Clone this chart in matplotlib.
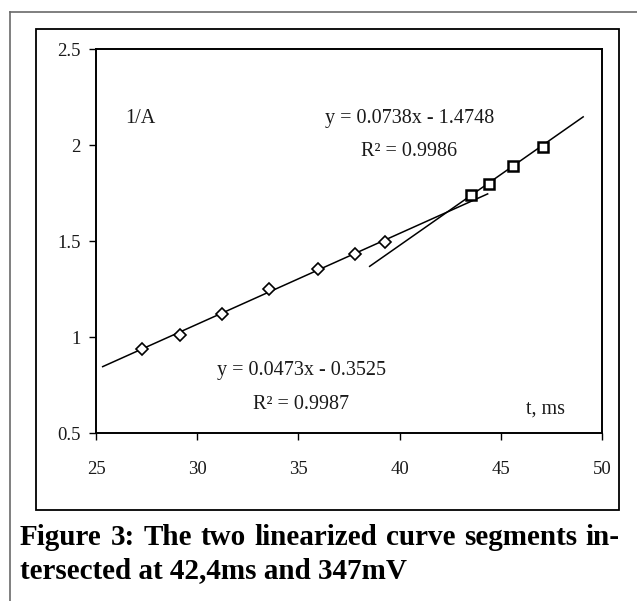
import matplotlib
matplotlib.use("Agg")
import matplotlib.pyplot as plt
from matplotlib.lines import Line2D
from matplotlib.patches import Rectangle
import numpy as np

# ---- data ----
seg1_t = [27.27, 29.14, 31.21, 33.55, 35.95, 37.82, 39.28]
seg1_inv_a = [0.936, 1.009, 1.122, 1.248, 1.352, 1.432, 1.495]
seg2_t = [43.53, 44.41, 45.60, 47.08]
seg2_inv_a = [1.742, 1.795, 1.889, 1.992]

fit1_slope, fit1_intercept = 0.0473, -0.3525
fit2_slope, fit2_intercept = 0.0738, -1.4748
fit1_range = [25.33, 44.35]
fit2_range = [38.52, 49.07]

fit1_label = "y = 0.0473x - 0.3525"
fit1_r2 = "R\u00b2 = 0.9987"
fit2_label = "y = 0.0738x - 1.4748"
fit2_r2 = "R\u00b2 = 0.9986"
y_title = "1/A"
x_title = "t, ms"

x_ticks = [25, 30, 35, 40, 45, 50]
y_ticks = [0.5, 1.0, 1.5, 2.0, 2.5]
y_ticklabels = ["0.5", "1", "1.5", "2", "2.5"]

caption_line1 = "Figure 3: The two linearized curve segments in-"
caption_line2 = "tersected at 42,4ms and 347mV"

# ---- figure ----
W, H = 637, 601
fig = plt.figure(figsize=(W / 100, H / 100), dpi=100)
fig.patch.set_facecolor("white")

def fx(px):
    return px / W

def fy(py):
    return 1 - py / H

serif = "Liberation Serif"
txtcol = "#1a1a1a"

# outer gray frame (top and left lines)
fig.add_artist(Line2D([fx(10), fx(637)], [fy(12), fy(12)], color="#6a6a6a", lw=1.2,
                      transform=fig.transFigure))
fig.add_artist(Line2D([fx(10), fx(10)], [fy(12), fy(601)], color="#6a6a6a", lw=1.2,
                      transform=fig.transFigure))

# inner chart box
fig.add_artist(Rectangle((fx(35.5), fy(509.5)), fx(619) - fx(35.5), fy(29) - fy(509.5),
                         transform=fig.transFigure, fill=False, ec="black", lw=1.3))

ax = fig.add_axes([fx(96), fy(433), fx(602) - fx(96), fy(49) - fy(433)])
ax.set_xlim(25, 50)
ax.set_ylim(0.5, 2.5)
for s in ax.spines.values():
    s.set_linewidth(1.4)
    s.set_color("black")

ax.set_xticks(x_ticks)
ax.set_xticklabels([str(v) for v in x_ticks])
ax.set_yticks(y_ticks)
ax.set_yticklabels(y_ticklabels)
ax.tick_params(axis="both", direction="out", length=5, width=1.0, colors="black",
               labelcolor=txtcol, labelsize=13.5)
ax.tick_params(axis="x", pad=15)
ax.tick_params(axis="y", pad=6)
for lab in ax.get_xticklabels() + ax.get_yticklabels():
    lab.set_fontfamily(serif)

# trend lines
x1 = np.array(fit1_range)
x2 = np.array(fit2_range)
ax.plot(x1, fit1_slope * x1 + fit1_intercept, color="black", lw=1.1, zorder=2)
ax.plot(x2, fit2_slope * x2 + fit2_intercept, color="black", lw=1.1, zorder=2)

# markers
ax.plot(seg1_t, seg1_inv_a, linestyle="none", marker="D", ms=6.2, mfc="white",
        mec="black", mew=1.2, zorder=3)
ax.plot(seg2_t, seg2_inv_a, linestyle="none", marker="s", ms=7.8, mfc="white",
        mec="black", mew=1.8, zorder=3)

tk = dict(fontfamily=serif, fontsize=14.5, color=txtcol, ha="center", va="center")
ax.text(27.2, 2.14, y_title, **tk)
ax.text(40.5, 2.14, fit2_label, **tk)
ax.text(40.47, 1.965, fit2_r2, **tk)
ax.text(35.17, 0.824, fit1_label, **tk)
ax.text(35.14, 0.651, fit1_r2, **tk)
ax.text(47.23, 0.625, x_title, **tk)

# caption, line 1 justified between x=20 and x=620 px
cap = dict(fontfamily=serif, fontweight="bold", fontsize=21, color="black", va="baseline")
words = caption_line1.split(" ")
fig.canvas.draw()
renderer = fig.canvas.get_renderer()
arts = []
widths = []
for w in words:
    t = fig.text(0, fy(545), w, **cap)
    arts.append(t)
    widths.append(t.get_window_extent(renderer).width)
left_px, right_px = 20, 620
gap = (right_px - left_px - sum(widths)) / (len(words) - 1)
xpos = left_px
for t, wdt in zip(arts, widths):
    t.set_x(fx(xpos))
    xpos += wdt + gap
fig.text(fx(20), fy(578), caption_line2, **cap)

fig.savefig("out.png", dpi=100, facecolor="white")
